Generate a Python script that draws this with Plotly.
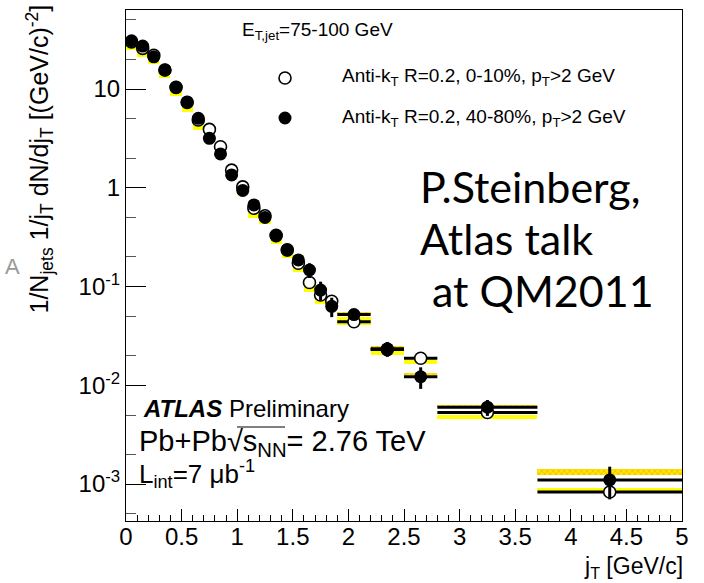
import plotly.graph_objects as go

# ---- j_T binning (GeV/c) ----
jt_centre = [0.05, 0.15, 0.25, 0.35, 0.45, 0.55, 0.65, 0.75, 0.85, 0.95,
             1.05, 1.15, 1.25, 1.35, 1.45, 1.55, 1.65, 1.75, 1.85,
             2.05, 2.35, 2.65, 3.25, 4.35]
jt_halfwidth = [0.05, 0.05, 0.05, 0.05, 0.05, 0.05, 0.05, 0.05, 0.05, 0.05,
                0.05, 0.05, 0.05, 0.05, 0.05, 0.05, 0.05, 0.05, 0.05,
                0.15, 0.15, 0.15, 0.45, 0.65]

# ---- 0-10% central (open circles) ----
central_val = [30.0, 25.8, 22.0, 15.6, 10.4, 7.3, 4.85, 3.9, 2.6, 1.51,
               1.02, 0.62, 0.52, 0.33, 0.235, 0.172, 0.110, 0.082, 0.071,
               0.044, 0.0230, 0.0188, 0.0053, 0.00083]
central_stat = [0.3, 0.3, 0.25, 0.2, 0.15, 0.1, 0.08, 0.06, 0.04, 0.03,
                0.02, 0.015, 0.012, 0.01, 0.008, 0.008, 0.008, 0.006, 0.006,
                0.002, 0.0015, 0.0012, 0.0003, 0.0001]
# systematic band edges, relative to the central value
central_sys_lo = [0.82, 0.82, 0.82, 0.82, 0.82, 0.80, 0.80, 0.80, 0.80, 0.82,
                  0.82, 0.80, 0.82, 0.82, 0.82, 0.82, 0.80, 0.82, 0.82,
                  0.92, 0.88, 0.88, 0.87, 1.03]
central_sys_hi = [0.96, 0.96, 0.96, 0.96, 0.96, 0.95, 0.95, 0.95, 0.95, 0.96,
                  0.96, 0.95, 0.96, 0.96, 0.96, 0.96, 0.95, 0.96, 0.96,
                  1.12, 0.97, 0.97, 0.95, 1.11]

# ---- 40-80% peripheral (filled circles) ----
periph_val = [30.8, 27.2, 21.2, 15.6, 10.4, 7.4, 5.05, 3.17, 2.2, 1.35,
              0.94, 0.67, 0.50, 0.325, 0.234, 0.186, 0.147, 0.092, 0.063,
              0.052, 0.0234, 0.0122, 0.0060, 0.0011]
periph_stat = [0.3, 0.3, 0.3, 0.2, 0.15, 0.1, 0.08, 0.05, 0.04, 0.03,
               0.02, 0.015, 0.012, 0.01, 0.03, 0.02, 0.025, 0.02, 0.014,
               0.004, 0.004, 0.003, 0.0011, 0.0004]
periph_sys_lo = [1.02, 1.02, 1.02, 1.02, 1.02, 1.02, 1.02, 1.02, 1.02, 1.02,
                 1.02, 1.02, 1.02, 1.02, 1.02, 1.02, 1.02, 1.02, 1.02,
                 1.02, 1.02, 1.04, 1.02, 1.12]
periph_sys_hi = [1.06, 1.06, 1.06, 1.06, 1.06, 1.06, 1.06, 1.06, 1.06, 1.06,
                 1.06, 1.06, 1.06, 1.06, 1.06, 1.06, 1.06, 1.06, 1.06,
                 1.06, 1.06, 1.09, 1.06, 1.28]

# ---- axis labelling ----
x_tickvals = [0, 0.5, 1, 1.5, 2, 2.5, 3, 3.5, 4, 4.5, 5]
x_ticktext = ["0", "0.5", "1", "1.5", "2", "2.5", "3", "3.5", "4", "4.5", "5"]
y_tickvals = [1e-3, 1e-2, 1e-1, 1, 10]
y_ticktext = ["10<sup>-3</sup>", "10<sup>-2</sup>", "10<sup>-1</sup>", "1", "10"]

FONT = "Liberation Sans, Arial, Helvetica, sans-serif"
SLIDE_FONT = "Lato, Carlito, sans-serif"
W, H = 704, 583
ML, MR, MT, MB = 126, 22, 10, 62
PW, PH = W - ML - MR, H - MT - MB


def px(x):
    return (x - ML) / PW


def py(y):
    return (H - MB - y) / PH


fig = go.Figure()

widths = [2 * h for h in jt_halfwidth]

# systematic boxes: solid yellow for 0-10 %, hatched gold for 40-80 %
fig.add_trace(go.Bar(
    x=jt_centre, width=widths,
    base=[v * lo for v, lo in zip(central_val, central_sys_lo)],
    y=[v * (hi - lo) for v, lo, hi in zip(central_val, central_sys_lo, central_sys_hi)],
    marker=dict(color="#ffff00", line=dict(width=0)),
    showlegend=False, hoverinfo="skip"))
fig.add_trace(go.Bar(
    x=jt_centre, width=widths,
    base=[v * lo for v, lo in zip(periph_val, periph_sys_lo)],
    y=[v * (hi - lo) for v, lo, hi in zip(periph_val, periph_sys_lo, periph_sys_hi)],
    marker=dict(color="#ffe600", line=dict(width=0),
                pattern=dict(shape="x", fgcolor="#e89a00", bgcolor="#ffe600",
                             size=4, solidity=0.4)),
    showlegend=False, hoverinfo="skip"))

# open circles: 0-10 %
fig.add_trace(go.Scatter(
    x=jt_centre, y=central_val, mode="markers",
    marker=dict(symbol="circle", size=12, color="white",
                line=dict(color="black", width=1.6)),
    error_x=dict(type="data", array=jt_halfwidth, color="black", thickness=3, width=0),
    error_y=dict(type="data", array=central_stat, color="black", thickness=3, width=0),
    showlegend=False))

# filled circles: 40-80 %
fig.add_trace(go.Scatter(
    x=jt_centre, y=periph_val, mode="markers",
    marker=dict(symbol="circle", size=13, color="black",
                line=dict(color="black", width=0)),
    error_x=dict(type="data", array=jt_halfwidth, color="black", thickness=3, width=0),
    error_y=dict(type="data", array=periph_stat, color="black", thickness=3, width=0),
    showlegend=False))

ann = []


def txt(text, x, y, size, xanchor="left", yanchor="middle", family=FONT,
        color="black", **kw):
    ann.append(dict(text=text, x=px(x), y=py(y), xref="paper", yref="paper",
                    xanchor=xanchor, yanchor=yanchor, showarrow=False,
                    font=dict(family=family, size=size, color=color), **kw))


txt("E<sub>T,jet</sub>=75-100 GeV", 240, 31, 19)
txt("Anti-k<sub>T</sub> R=0.2, 0-10%, p<sub>T</sub>>2 GeV", 340, 77, 19)
txt("Anti-k<sub>T</sub> R=0.2, 40-80%, p<sub>T</sub>>2 GeV", 340, 118, 19)

txt("P.Steinberg,", 418, 186, 43, family=SLIDE_FONT)
txt("Atlas talk", 418, 238, 43, family=SLIDE_FONT)
txt("at QM2011", 430, 290, 43, family=SLIDE_FONT)

txt("<b><i>ATLAS</i></b> Preliminary", 141, 408, 24)
txt("Pb+Pb\u221as<sub>NN</sub>= 2.76 TeV", 137, 443, 29)
txt("L<sub>int</sub>=7 \u03bcb<sup>-1</sup>", 137, 474, 26)

# stray slide fragment at the far left
txt("A", 22, 266, 22, xanchor="right", color="#9a9a9a")

# axis titles
txt("1/N<sub>jets</sub> 1/j<sub>T</sub> dN/dj<sub>T</sub> [(GeV/c)<sup>-2</sup>]",
    40, 3, 25, xanchor="center", yanchor="top", textangle=-90)
txt("j<sub>T</sub> [GeV/c]", 685, 567, 23, xanchor="right")

fig.update_layout(annotations=ann)

shapes = [
    # legend symbols
    dict(type="circle", xref="paper", yref="paper", xsizemode="pixel", ysizemode="pixel",
         xanchor=px(285), yanchor=py(78), x0=-6, x1=6, y0=-6, y1=6,
         line=dict(color="black", width=1.6), fillcolor="white"),
    dict(type="circle", xref="paper", yref="paper", xsizemode="pixel", ysizemode="pixel",
         xanchor=px(285), yanchor=py(118), x0=-6.5, x1=6.5, y0=-6.5, y1=6.5,
         line=dict(color="black", width=0), fillcolor="black"),
    # vinculum of the square root
    dict(type="line", xref="paper", yref="paper",
         x0=px(237), x1=px(285), y0=py(427), y1=py(427),
         line=dict(color="black", width=1.2)),
]
fig.update_layout(shapes=shapes)

fig.update_layout(
    width=W, height=H,
    margin=dict(l=ML, r=MR, t=MT, b=MB, pad=0),
    paper_bgcolor="white", plot_bgcolor="white",
    barmode="overlay", bargap=0,
    showlegend=False,
    font=dict(family=FONT, color="black"),
    xaxis=dict(range=[0, 5], tickvals=x_tickvals, ticktext=x_ticktext,
               ticks="inside", ticklen=12, tickwidth=1, tickcolor="black",
               minor=dict(ticks="inside", ticklen=6, dtick=0.1, tickcolor="black", tickwidth=1),
               showline=True, linecolor="black", linewidth=1, mirror=True,
               showgrid=False, zeroline=False, ticklabelstandoff=-6,
               tickfont=dict(size=24, family=FONT, color="black")),
    yaxis=dict(type="log", range=[-3.374, 1.80], tickvals=y_tickvals, ticktext=y_ticktext,
               ticks="inside", ticklen=20, tickwidth=1, tickcolor="black",
               minor=dict(ticks="inside", ticklen=10, tickcolor="#555", tickwidth=1),
               showline=True, linecolor="black", linewidth=1, mirror=True,
               showgrid=False, zeroline=False,
               tickfont=dict(size=24, family=FONT, color="black")),
)

fig.write_html("out.html")
